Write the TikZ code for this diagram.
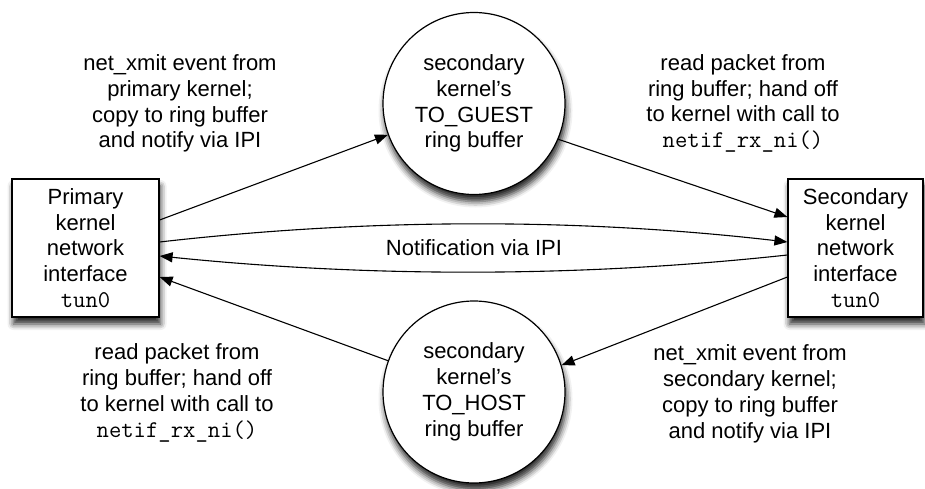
\documentclass[tikz,border=0pt]{standalone}
\usepackage{fontspec}
\setmainfont{Liberation Sans}
\usetikzlibrary{arrows.meta,shadows.blur}

\tikzset{
  every node/.style={font=\fontsize{22}{25.8}\selectfont, align=center},
  softshadow/.style={blur shadow={shadow xshift=1.5pt, shadow yshift=-7pt,
      shadow blur radius=6pt, shadow opacity=85}},
  ifbox/.style={draw, line width=1.2pt, fill=white, inner sep=0pt, softshadow},
  ringbuf/.style={draw, circle, line width=1.2pt, fill=white, inner sep=0pt,
      minimum size=182pt, softshadow},
  flow/.style={line width=1.1pt, -{Triangle[length=13pt,width=10pt]}},
  note/.style={inner sep=0pt}
}
\newcommand{\mono}[1]{{\fontsize{24}{25.8}\selectfont\ttfamily #1}}

\begin{document}
\begin{tikzpicture}[x=1pt, y=-1pt]
  \useasboundingbox (0,0) rectangle (925,489);

  % network interfaces
  \node[ifbox, minimum width=147pt, minimum height=138pt] (L) at (85.5,248)
    {Primary\\kernel\\network\\interface\\\mono{tun0}};
  \node[ifbox, minimum width=135pt, minimum height=138pt] (R) at (855.5,248)
    {Secondary\\kernel\\network\\interface\\\mono{tun0}};

  % ring buffers
  \node[ringbuf] (G) at (474,103.5) {secondary\\kernel's\\TO\_GUEST\\ring buffer};
  \node[ringbuf] (H) at (474,392) {secondary\\kernel's\\TO\_HOST\\ring buffer};

  % descriptions of each step
  \node[note] (t1) at (180,103.5) {net\_xmit event from\\primary kernel;\\copy to ring buffer\\and notify via IPI};
  \node[note] (t2) at (743,103.5) {read packet from\\ring buffer; hand off\\to kernel with call to\\\mono{netif\_rx\_ni()}};
  \node[note] (t3) at (177,393) {read packet from\\ring buffer; hand off\\to kernel with call to\\\mono{netif\_rx\_ni()}};
  \node[note] (t4) at (750,394) {net\_xmit event from\\secondary kernel;\\copy to ring buffer\\and notify via IPI};
  \node[note] (ipi) at (474,248) {Notification via IPI};

  % packet flow through the ring buffers
  \draw[flow] ([yshift=28pt]L.east) -- (G.200);
  \draw[flow] (G.337) -- ([yshift=31pt]R.west);
  \draw[flow] ([yshift=-29pt]R.west) -- (H.17);
  \draw[flow] (H.160) -- ([yshift=-29pt]L.east);

  % inter-processor notifications
  \draw[flow] ([yshift=6pt]L.east) .. controls (370,218) and (580,218) .. ([yshift=6pt]R.west);
  \draw[flow] ([yshift=-7pt]R.west) .. controls (580,277.5) and (370,277.5) .. ([yshift=-8pt]L.east);
\end{tikzpicture}
\end{document}
